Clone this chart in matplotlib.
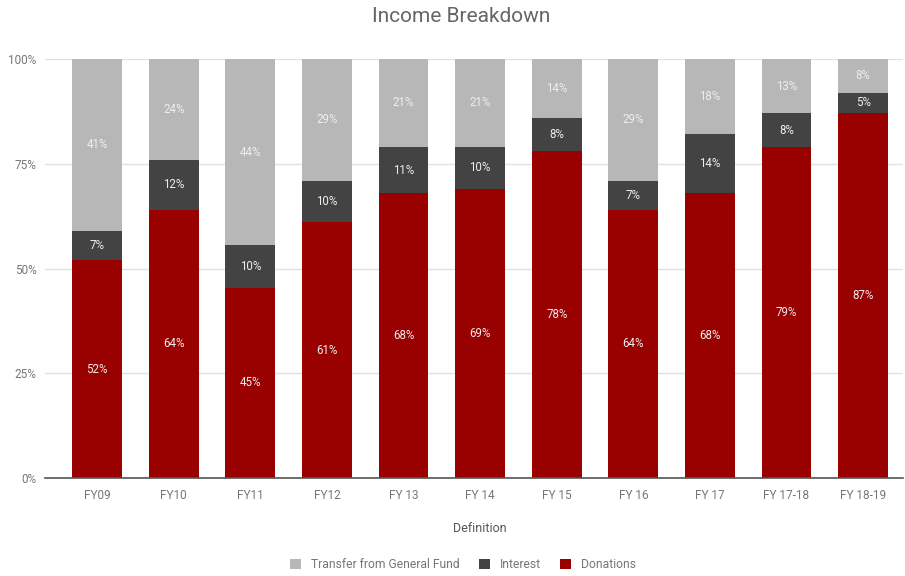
import matplotlib
matplotlib.use("Agg")
import matplotlib.pyplot as plt
import numpy as np
from matplotlib.ticker import FuncFormatter

categories = ["FY09", "FY10", "FY11", "FY12", "FY 13", "FY 14", "FY 15", "FY 16", "FY 17", "FY 17-18", "FY 18-19"]
donations = [52, 64, 45, 61, 68, 69, 78, 64, 68, 79, 87]
interest = [7, 12, 10, 10, 11, 10, 8, 7, 14, 8, 5]
transfer = [41, 24, 44, 29, 21, 21, 14, 29, 18, 13, 8]

plt.rcParams['font.family'] = ['Roboto', 'DejaVu Sans']

d = np.array(donations, float)
i = np.array(interest, float)
t = np.array(transfer, float)
tot = d + i + t
dn, inn, tn = d / tot * 100, i / tot * 100, t / tot * 100

fig = plt.figure(figsize=(9.05, 5.76), dpi=100)
ax = fig.add_axes([45 / 905, 1 - 478 / 576, (903 - 45) / 905, (478 - 59) / 576])

x = np.arange(len(categories))
w = 0.65
c_red, c_dark, c_light = "#990000", "#434343", "#b7b7b7"
ax.bar(x, dn, w, color=c_red, zorder=3, label="Donations")
ax.bar(x, inn, w, bottom=dn, color=c_dark, zorder=3, label="Interest")
ax.bar(x, tn, w, bottom=dn + inn, color=c_light, zorder=3, label="Transfer from General Fund")

lab_color = "#eeeeee"
fs_lab = 8.3
for k in range(len(x)):
    ax.text(x[k], dn[k] / 2, f"{donations[k]}%", ha="center", va="center", color=lab_color, fontsize=fs_lab, zorder=4)
    ax.text(x[k], dn[k] + inn[k] / 2, f"{interest[k]}%", ha="center", va="center", color=lab_color, fontsize=fs_lab, zorder=4)
    ax.text(x[k], dn[k] + inn[k] + tn[k] / 2, f"{transfer[k]}%", ha="center", va="center", color=lab_color, fontsize=fs_lab, zorder=4)

ax.set_xlim(-0.68, 10.52)
ax.set_ylim(0, 100)
ax.set_yticks([0, 25, 50, 75, 100])
ax.yaxis.set_major_formatter(FuncFormatter(lambda v, p: f"{int(v)}%"))
ax.set_xticks(x)
ax.set_xticklabels(categories)
ax.tick_params(axis="both", length=0, labelsize=8.5, colors="#777777")
ax.tick_params(axis="x", pad=8)
ax.tick_params(axis="y", pad=6)
ax.grid(axis="y", color="#e2e2e2", linewidth=1, zorder=0)
for s in ["top", "right", "left"]:
    ax.spines[s].set_visible(False)
ax.spines["bottom"].set_color("#555555")
ax.spines["bottom"].set_linewidth(1.2)
ax.spines["bottom"].set_zorder(5)

fig.text(480 / 905, 1 - 528 / 576, "Definition", ha="center", va="center", fontsize=9, color="#555555")
fig.text(461 / 905, 1 - 17 / 576, "Income Breakdown", ha="center", va="center", fontsize=15, color="#666666")

handles, labels = ax.get_legend_handles_labels()
leg = fig.legend(handles[::-1], labels[::-1], loc="center", bbox_to_anchor=(463 / 905, 1 - 565 / 576), ncol=3,
                 frameon=False, fontsize=8.7, handlelength=0.9, handleheight=0.9, columnspacing=1.6, handletextpad=0.8)
for txt in leg.get_texts():
    txt.set_color("#777777")

fig.savefig("out.png", dpi=100)
